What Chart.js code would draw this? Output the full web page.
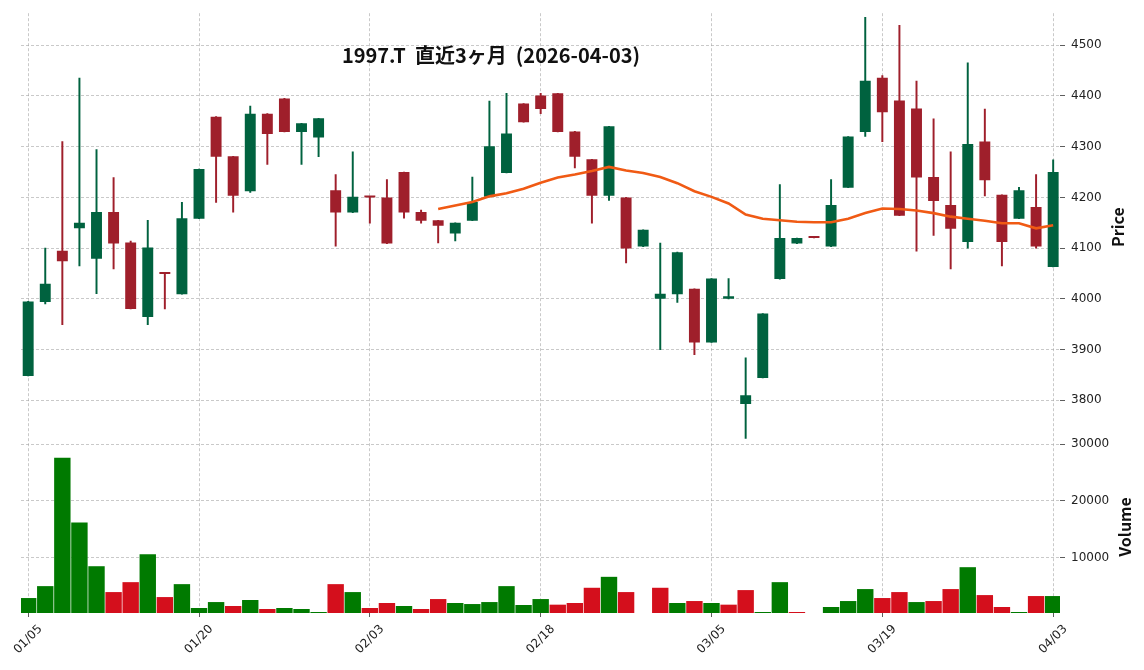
<!DOCTYPE html>
<html>
<head>
<meta charset="utf-8">
<script src="https://cdn.jsdelivr.net/npm/chart.js@4.4.1/dist/chart.umd.min.js"></script>
<style>
  html, body { margin: 0; padding: 0; background: #fff; }
  #chart { display: block; }
</style>
</head>
<body>
<canvas id="chart" width="1144" height="670"></canvas>
<script>
// 日付ラベル
const dates = [
  '01/05','01/06','01/07','01/08','01/09','01/13','01/14','01/15','01/16','01/19',
  '01/20','01/21','01/22','01/23','01/26','01/27','01/28','01/29','01/30','02/02',
  '02/03','02/04','02/05','02/06','02/09','02/10','02/12','02/13','02/16','02/17',
  '02/18','02/19','02/20','02/24','02/25','02/26','02/27','03/02','03/03','03/04',
  '03/05','03/06','03/09','03/10','03/11','03/12','03/13','03/16','03/17','03/18',
  '03/19','03/23','03/24','03/25','03/26','03/27','03/30','03/31','04/01','04/02',
  '04/03'
];

// 四本値
const openP = [
  3848,3994,4095,4139,4079,4171,4111,3964,4050,4009,
  4158,4359,4281,4212,4365,4395,4329,4318,4214,4170,
  4201,4200,4250,4171,4155,4129,4154,4201,4248,4385,
  4401,4405,4330,4275,4203,4200,4103,4000,4009,4020,
  3914,4000,3793,3844,4039,4109,4121,4103,4219,4329,
  4436,4391,4375,4240,4185,4112,4310,4205,4158,4181,
  4063
];
const highP = [
  3995,4100,4310,4435,4294,4239,4114,4155,4050,4190,
  4256,4359,4281,4380,4365,4395,4346,4356,4245,4290,
  4201,4235,4250,4175,4155,4150,4240,4390,4405,4385,
  4405,4405,4330,4275,4340,4200,4136,4110,4092,4020,
  4040,4040,3884,3971,4225,4120,4121,4235,4320,4555,
  4440,4539,4429,4355,4290,4465,4374,4205,4220,4245,
  4274
];
const lowP = [
  3848,3990,3949,4065,4010,4059,3980,3949,3980,4009,
  4158,4190,4171,4210,4265,4329,4265,4280,4104,4170,
  4149,4109,4159,4149,4110,4114,4154,4201,4248,4348,
  4365,4329,4258,4149,4194,4071,4103,3900,3993,3890,
  3914,4000,3725,3844,4039,4109,4120,4103,4219,4320,
  4310,4164,4094,4125,4059,4100,4203,4065,4158,4100,
  4063
];
const closeP = [
  3995,4030,4074,4150,4171,4109,3980,4101,4049,4159,
  4256,4280,4203,4365,4325,4329,4346,4356,4170,4201,
  4200,4109,4170,4154,4144,4150,4191,4301,4326,4348,
  4374,4329,4280,4203,4340,4099,4136,4010,4092,3914,
  4040,4005,3810,3971,4120,4120,4120,4185,4320,4430,
  4368,4164,4239,4193,4138,4305,4234,4112,4214,4103,
  4250
];

// 出来高
const volume = [
  2870,4970,27600,16200,8480,3920,5670,10590,3040,5320,
  1110,2160,1460,2520,940,1110,940,410,5320,3920,
  1110,1990,1460,940,2690,1990,1810,2160,4970,1640,
  2690,1700,1990,4680,6610,3920,0,4680,1990,2340,
  1990,1700,4270,410,5670,410,0,1290,2340,4450,
  2870,3920,2160,2340,4450,8310,3390,1290,410,3220,
  3220
];

// 25日移動平均 (index 24 から)
const maStart = 24;
const ma25 = [
  4177,4184,4191,4202,4208,4217,4229,4239,4245,4252,
  4260,4253,4248,4240,4228,4212,4201,4188,4166,4158,
  4155,4152,4151,4151,4158,4169,4178,4177,4174,4169,
  4162,4158,4154,4149,4149,4139,4145
];

const dateTicks = [0, 10, 20, 30, 40, 50, 60];
const priceTicks = [3800, 3900, 4000, 4100, 4200, 4300, 4400, 4500];
const volumeTicks = [10000, 20000, 30000];
const titleText = '1997.T  直近3ヶ月  (2026-04-03)';

const UP = '#00623f', DOWN = '#9f1f2b';
const VUP = '#007a00', VDOWN = '#d40f1c';

const candleColors = openP.map((o, i) => closeP[i] > o ? UP : DOWN);
const volColors = closeP.map((c, i) => (i === 0 || c > closeP[i - 1]) ? VUP : VDOWN);

const gridColor = 'rgba(165,165,165,0.75)';
const tickFont = { family: '"DejaVu Sans"', size: 12 };

const fixTicks = (list) => (scale) => { scale.ticks = list.map(v => ({ value: v })); };

// タイトル・軸ラベル・日付ラベル (matplotlib風に45度で中央揃え)
const overlayText = {
  id: 'overlayText',
  afterDraw(chart) {
    const c = chart.ctx;
    const { x, yp, yv } = chart.scales;
    const label = (text, px, py, angle) => {
      c.save();
      c.translate(px, py);
      c.rotate(angle);
      c.fillText(text, 0, 0);
      c.restore();
    };
    c.save();
    c.fillStyle = '#111';
    c.textAlign = 'center';
    c.textBaseline = 'middle';
    c.font = 'bold 20px "Noto Sans CJK JP"';
    c.fillText(titleText, 491, 55);
    c.font = 'bold 16px "Noto Sans CJK JP"';
    label('Price', 1118, (yp.top + yp.bottom) / 2, -Math.PI / 2);
    label('Volume', 1125, (yv.top + yv.bottom) / 2, -Math.PI / 2);

    c.fillStyle = '#222';
    c.font = '12px "DejaVu Sans"';
    dateTicks.forEach(v => {
      const text = dates[v];
      const w = c.measureText(text).width;
      const half = (w + 12) * Math.SQRT1_2 / 2;
      label(text, x.getPixelForValue(v), x.top + 10 + half, -Math.PI / 4);
    });
    c.restore();
  }
};

const ctx = document.getElementById('chart').getContext('2d');
new Chart(ctx, {
  type: 'bar',
  data: {
    datasets: [
      {
        type: 'line',
        label: 'MA25',
        data: ma25.map((v, i) => ({ x: maStart + i, y: v })),
        yAxisID: 'yp',
        borderColor: '#f05a14',
        borderWidth: 2.6,
        pointRadius: 0,
        tension: 0,
        order: 0
      },
      {
        label: 'body',
        data: openP.map((o, i) => ({ x: i, y: [o, closeP[i]] })),
        yAxisID: 'yp',
        backgroundColor: candleColors,
        grouped: false,
        categoryPercentage: 1,
        barPercentage: 0.64,
        minBarLength: 2,
        order: 1
      },
      {
        label: 'wick',
        data: lowP.map((l, i) => ({ x: i, y: [l, highP[i]] })),
        yAxisID: 'yp',
        backgroundColor: candleColors,
        grouped: false,
        barThickness: 1.3,
        order: 2
      },
      {
        label: 'volume',
        data: volume.map((v, i) => ({ x: i, y: v })),
        yAxisID: 'yv',
        backgroundColor: volColors,
        grouped: false,
        categoryPercentage: 1,
        barPercentage: 0.96,
        order: 3
      }
    ]
  },
  options: {
    responsive: false,
    animation: false,
    layout: { padding: { left: 21, top: 10, right: 0, bottom: 0 } },
    plugins: {
      legend: { display: false },
      tooltip: { enabled: false }
    },
    scales: {
      x: {
        type: 'linear',
        offset: false,
        min: -0.42,
        max: 60.4,
        afterBuildTicks: fixTicks(dateTicks),
        afterFit: (s) => { s.height = 57; },
        ticks: { display: false },
        grid: { offset: false, color: gridColor, lineWidth: 0.8, tickLength: 4, tickColor: '#333', tickBorderDash: [] },
        border: { display: false, dash: [3, 2] }
      },
      yp: {
        type: 'linear',
        position: 'right',
        stack: 'panes',
        stackWeight: 430,
        min: 3720,
        max: 4563,
        afterBuildTicks: fixTicks(priceTicks),
        afterFit: (s) => { s.width = 84; },
        ticks: { color: '#222', font: tickFont, padding: 6, autoSkip: false, callback: (v) => String(v) },
        grid: { color: gridColor, lineWidth: 0.8, tickLength: 5, tickColor: '#333', tickBorderDash: [] },
        border: { display: false, dash: [3, 2] }
      },
      yv: {
        type: 'linear',
        position: 'right',
        stack: 'panes',
        stackWeight: 173,
        min: 230,
        max: 30580,
        afterBuildTicks: fixTicks(volumeTicks),
        afterFit: (s) => { s.width = 84; },
        ticks: { color: '#222', font: tickFont, padding: 6, autoSkip: false, callback: (v) => String(v) },
        grid: { color: gridColor, lineWidth: 0.8, tickLength: 5, tickColor: '#333', tickBorderDash: [] },
        border: { display: false, dash: [3, 2] }
      }
    }
  },
  plugins: [overlayText]
});
</script>
</body>
</html>
